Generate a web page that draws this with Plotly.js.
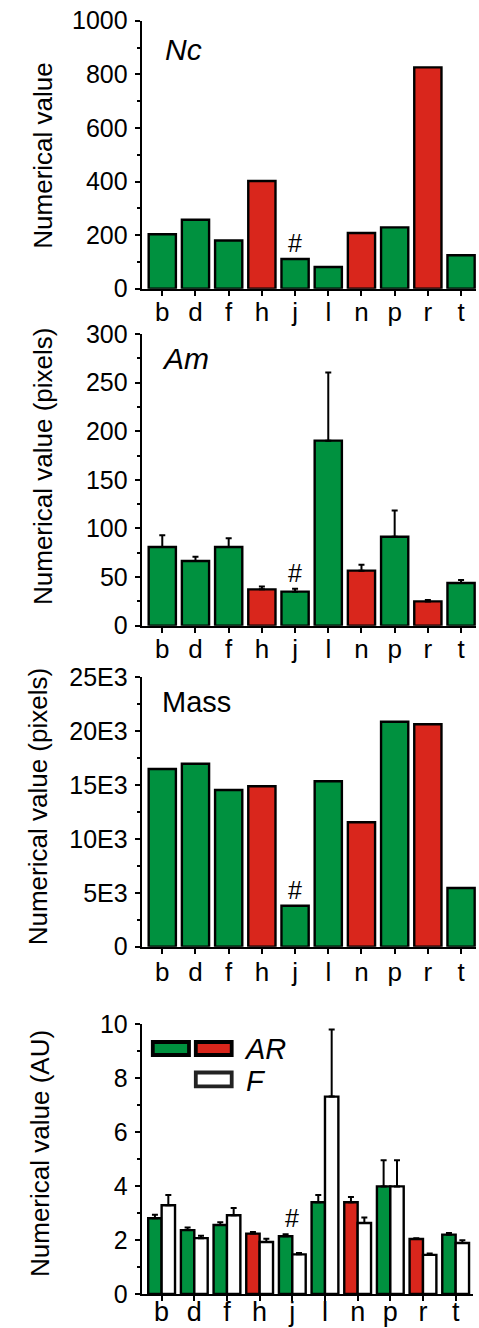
<!DOCTYPE html>
<html><head><meta charset="utf-8">
<script src="https://cdn.plot.ly/plotly-3.0.1.min.js"></script>
<style>html,body{margin:0;padding:0;background:#fff}</style>
</head><body><div id="chart" style="width:479px;height:1328px"></div>
<script>
// ---- data ----
const categories = ['b','d','f','h','j','l','n','p','r','t'];
const GREEN = '#00913f', RED = '#d9261c';
const catColors = [GREEN,GREEN,GREEN,RED,GREEN,GREEN,RED,GREEN,RED,GREEN];

const ncValues   = [203, 257, 180, 402, 111, 81, 208, 229, 826, 125];
const amValues   = [81, 66.5, 81, 37.4, 35, 190.3, 56.6, 91.5, 25, 43.9];
const amErr      = [12, 4.5, 9, 3, 3, 70, 6, 27, 1.5, 3];
const massValues = [16490, 16980, 14540, 14885, 3805, 15350, 11545, 20880, 20640, 5447];
const massTickVals = [0, 5000, 10000, 15000, 20000, 25000];
const massTickText = ['0', '5E3', '10E3', '15E3', '20E3', '25E3'];
const arValues   = [2.81, 2.37, 2.56, 2.24, 2.14, 3.40, 3.40, 3.99, 2.04, 2.20];
const arErr      = [0.13, 0.10, 0.10, 0.06, 0.08, 0.27, 0.20, 0.97, 0.03, 0.06];
const fValues    = [3.29, 2.07, 2.92, 1.93, 1.47, 7.32, 2.63, 3.99, 1.45, 1.89];
const fErr       = [0.38, 0.09, 0.27, 0.12, 0.05, 2.49, 0.21, 0.97, 0.05, 0.10];
const markedCategory = 'j';

// ---- layout helpers ----
const W = 479, H = 1328;
const px = x => x / W;
const py = y => 1 - y / H;
const FONT = 'Liberation Sans, Arial, sans-serif';
const zeros = categories.map(() => 0);
const outline = {color: '#000', width: 2.4};

function yAxis(domain, range, dtick, minorDtick, extra) {
  return Object.assign({
    domain: domain, range: range, dtick: dtick, tick0: 0,
    showline: true, linewidth: 2, linecolor: '#000',
    ticks: 'outside', ticklen: 5, tickwidth: 2, tickcolor: '#000',
    ticklabelstandoff: 2,
    showgrid: false, zeroline: false, tickfont: {size: 25, color: '#000'},
    minor: {ticks: 'outside', ticklen: 3, tickwidth: 2, tickcolor: '#000', dtick: minorDtick, showgrid: false},
    fixedrange: true
  }, extra || {});
}
function xAxis(domain, anchor, range, fsize, standoff) {
  return {
    domain: domain, anchor: anchor, type: 'category', range: range,
    categoryorder: 'array', categoryarray: categories,
    tickmode: 'array', tickvals: categories, ticktext: categories,
    showline: true, linewidth: 2, linecolor: '#000',
    ticks: 'outside', ticklen: 5, tickwidth: 2, tickcolor: '#000',
    ticklabelstandoff: standoff,
    showgrid: false, zeroline: false, tickfont: {size: fsize, color: '#000'},
    fixedrange: true
  };
}

const errStyle = {type: 'data', symmetric: false, color: '#000', thickness: 2, width: 3};

const traces = [
  {type: 'bar', x: categories, y: ncValues, xaxis: 'x', yaxis: 'y',
   marker: {color: catColors, line: outline}},
  {type: 'bar', x: categories, y: amValues, xaxis: 'x2', yaxis: 'y2',
   marker: {color: catColors, line: outline},
   error_y: Object.assign({array: amErr, arrayminus: zeros}, errStyle)},
  {type: 'bar', x: categories, y: massValues, xaxis: 'x3', yaxis: 'y3',
   marker: {color: catColors, line: outline}},
  {type: 'bar', name: 'AR', x: categories, y: arValues, xaxis: 'x4', yaxis: 'y4',
   marker: {color: catColors, line: outline},
   error_y: Object.assign({array: arErr, arrayminus: zeros}, errStyle)},
  {type: 'bar', name: 'F', x: categories, y: fValues, xaxis: 'x4', yaxis: 'y4',
   marker: {color: '#ffffff', line: outline},
   error_y: Object.assign({array: fErr, arrayminus: zeros}, errStyle)}
];

const jIdx = categories.indexOf(markedCategory);
function hashNote(xref, yref, yval) {
  return {xref: xref, yref: yref, x: markedCategory, y: yval, text: '#',
          showarrow: false, yanchor: 'bottom', xanchor: 'center', yshift: 0,
          font: {size: 25, color: '#000'}};
}
function ytitle(text, xc, yc) {
  return {xref: 'paper', yref: 'paper', x: px(xc), y: py(yc), text: text, textangle: -90,
          showarrow: false, xanchor: 'center', yanchor: 'middle', font: {size: 26, color: '#000'}};
}
function label(text, xl, yc, size) {
  return {xref: 'paper', yref: 'paper', x: px(xl), y: py(yc), text: text,
          showarrow: false, xanchor: 'left', yanchor: 'middle', font: {size: size, color: '#000'}};
}

const xDom = [px(141.7), px(476)];
const xDom4 = [px(141.7), px(473.3)];

const layout = {
  width: W, height: H, margin: {l: 0, r: 0, t: 0, b: 0},
  paper_bgcolor: '#fff', plot_bgcolor: '#fff',
  font: {family: FONT, color: '#000'},
  showlegend: false, barmode: 'group', bargap: 0.18, bargroupgap: 0,
  xaxis:  xAxis(xDom, 'y', [-0.62, 9.45], 26, -6),
  xaxis2: xAxis(xDom, 'y2', [-0.62, 9.45], 26, -6),
  xaxis3: xAxis(xDom, 'y3', [-0.62, 9.45], 26, -4),
  xaxis4: xAxis(xDom4, 'y4', [-0.61, 9.54], 27, -12),
  yaxis:  yAxis([py(288.7), py(20.7)], [0, 1000], 200, 100, {anchor: 'x'}),
  yaxis2: yAxis([py(625.7), py(334)], [0, 300], 50, 25, {anchor: 'x2'}),
  yaxis3: yAxis([py(946.7), py(677.3)], [0, 25000], 5000, 2500,
                {anchor: 'x3', tickmode: 'array', tickvals: massTickVals, ticktext: massTickText}),
  yaxis4: yAxis([py(1294), py(1024.3)], [0, 10], 2, 1, {anchor: 'x4'}),
  annotations: [
    ytitle('Numerical value', 42.7, 156),
    ytitle('Numerical value (pixels)', 43, 467),
    ytitle('Numerical value (pixels)', 38.3, 807),
    ytitle('Numerical value (AU)', 40, 1154),
    label('<i>Nc</i>', 163, 49, 30),
    label('<i>Am</i>', 160, 358, 30),
    label('Mass', 160, 702, 29),
    label('<i>AR</i>', 242, 1049, 29),
    label('<i>F</i>', 244, 1081, 29),
    hashNote('x', 'y', ncValues[jIdx]),
    hashNote('x2', 'y2', amValues[jIdx] + amErr[jIdx]),
    hashNote('x3', 'y3', massValues[jIdx]),
    hashNote('x4', 'y4', arValues[jIdx] + arErr[jIdx])
  ],
  shapes: [
    {type: 'rect', xref: 'paper', yref: 'paper', x0: px(152.8), x1: px(189), y0: py(1055), y1: py(1042),
     fillcolor: GREEN, line: {color: '#000', width: 3.8}},
    {type: 'rect', xref: 'paper', yref: 'paper', x0: px(195.8), x1: px(231.7), y0: py(1055), y1: py(1042),
     fillcolor: RED, line: {color: '#000', width: 3.8}},
    {type: 'rect', xref: 'paper', yref: 'paper', x0: px(195.8), x1: px(231.7), y0: py(1086.3), y1: py(1072.5),
     fillcolor: '#fff', line: {color: '#222', width: 3.8}}
  ]
};

Plotly.newPlot('chart', traces, layout, {staticPlot: true, displayModeBar: false});
</script>
</body></html>
